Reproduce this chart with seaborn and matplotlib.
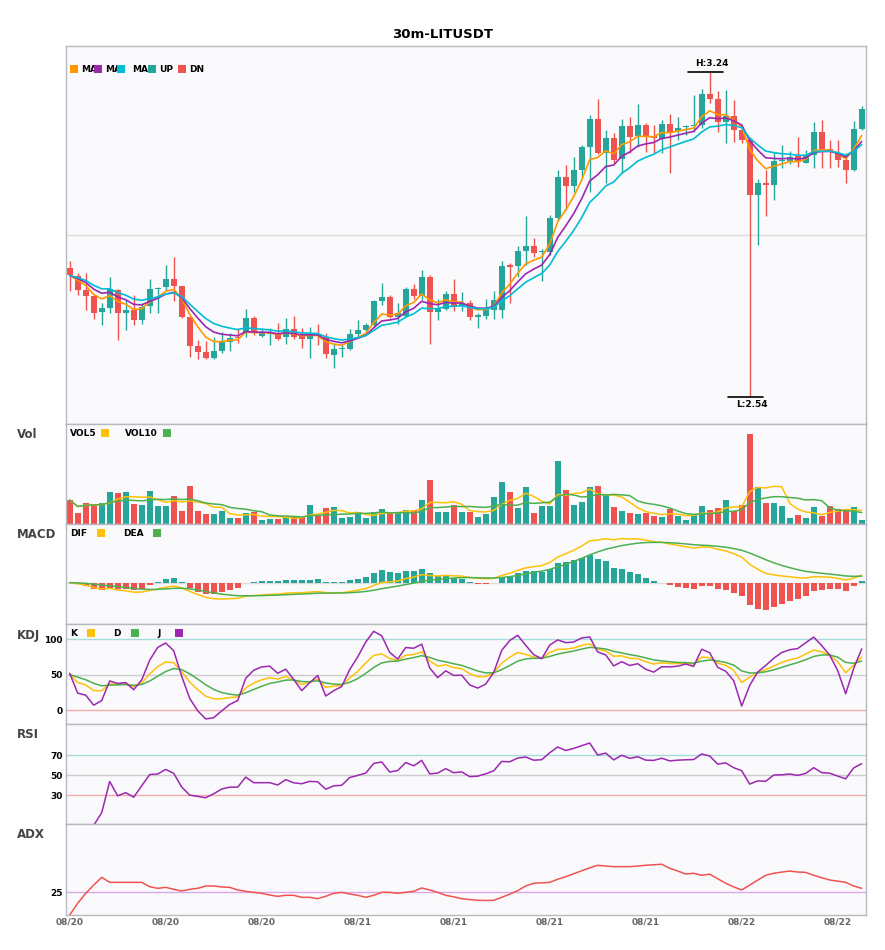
import numpy as np
import pandas as pd
import matplotlib
matplotlib.use("Agg")
import matplotlib.pyplot as plt
import seaborn as sns
from matplotlib.lines import Line2D

sns.set_theme(style="white")
plt.rcParams['font.family'] = ['DejaVu Sans']

# ---------------- data ----------------
symbol = "30m-LITUSDT"
date_labels = ["08/20", "08/20", "08/20", "08/21", "08/21", "08/21", "08/21", "08/22", "08/22"]
label_step = 12

opens = [2.818, 2.800, 2.770, 2.757, 2.723, 2.731, 2.770, 2.720, 2.727, 2.704,
         2.734, 2.771, 2.776, 2.793, 2.778, 2.712, 2.649, 2.636, 2.624, 2.639,
         2.658, 2.669, 2.677, 2.710, 2.671, 2.675, 2.675, 2.669, 2.686, 2.671,
         2.664, 2.673, 2.669, 2.630, 2.643, 2.643, 2.675, 2.684, 2.694, 2.745,
         2.755, 2.712, 2.714, 2.772, 2.757, 2.798, 2.723, 2.729, 2.761, 2.736,
         2.742, 2.712, 2.714, 2.727, 2.727, 2.823, 2.821, 2.854, 2.865, 2.851,
         2.852, 2.925, 3.012, 2.994, 3.028, 3.078, 3.138, 3.065, 3.098, 3.052,
         3.123, 3.101, 3.125, 3.102, 3.095, 3.127, 3.113, 3.120, 3.122, 3.125,
         3.192, 3.181, 3.132, 3.145, 3.114, 3.093, 2.974, 3.000, 2.996, 3.047,
         3.048, 3.058, 3.044, 3.061, 3.109, 3.074, 3.065, 3.049, 3.029, 3.116]
highs = [2.831, 2.807, 2.807, 2.759, 2.742, 2.798, 2.772, 2.747, 2.759, 2.742,
         2.793, 2.776, 2.824, 2.841, 2.778, 2.712, 2.662, 2.659, 2.669, 2.678,
         2.677, 2.688, 2.729, 2.714, 2.688, 2.688, 2.699, 2.709, 2.714, 2.688,
         2.690, 2.697, 2.677, 2.653, 2.653, 2.686, 2.704, 2.699, 2.747, 2.785,
         2.759, 2.742, 2.775, 2.783, 2.813, 2.802, 2.750, 2.768, 2.793, 2.766,
         2.747, 2.721, 2.750, 2.768, 2.831, 2.828, 2.864, 2.929, 2.882, 2.857,
         2.931, 3.028, 3.039, 3.056, 3.082, 3.147, 3.181, 3.114, 3.108, 3.137,
         3.142, 3.170, 3.129, 3.125, 3.136, 3.149, 3.143, 3.125, 3.190, 3.202,
         3.240, 3.199, 3.200, 3.180, 3.120, 3.100, 3.008, 3.028, 3.068, 3.082,
         3.070, 3.100, 3.071, 3.132, 3.135, 3.093, 3.093, 3.064, 3.134, 3.165]
lows = [2.768, 2.759, 2.727, 2.707, 2.694, 2.720, 2.662, 2.684, 2.694, 2.696,
        2.720, 2.720, 2.768, 2.745, 2.709, 2.625, 2.621, 2.621, 2.621, 2.634,
        2.639, 2.656, 2.668, 2.673, 2.668, 2.651, 2.662, 2.653, 2.664, 2.645,
        2.624, 2.651, 2.623, 2.602, 2.626, 2.640, 2.669, 2.680, 2.691, 2.737,
        2.709, 2.696, 2.712, 2.750, 2.748, 2.653, 2.705, 2.727, 2.725, 2.725,
        2.705, 2.688, 2.706, 2.707, 2.709, 2.742, 2.798, 2.824, 2.840, 2.789,
        2.845, 2.920, 2.942, 2.981, 3.010, 2.981, 3.063, 3.001, 3.043, 3.022,
        3.065, 3.078, 3.068, 3.065, 3.064, 3.021, 3.093, 3.104, 3.111, 3.118,
        3.172, 3.111, 3.087, 3.089, 3.087, 2.540, 2.867, 2.928, 2.964, 3.032,
        3.041, 3.034, 3.043, 3.032, 3.032, 3.032, 3.034, 3.001, 3.026, 3.114]
closes = [2.801, 2.770, 2.757, 2.721, 2.731, 2.772, 2.720, 2.727, 2.704, 2.733,
          2.772, 2.774, 2.793, 2.779, 2.712, 2.649, 2.637, 2.624, 2.639, 2.658,
          2.666, 2.666, 2.710, 2.677, 2.677, 2.677, 2.664, 2.686, 2.669, 2.664,
          2.673, 2.671, 2.631, 2.643, 2.645, 2.675, 2.684, 2.694, 2.745, 2.755,
          2.712, 2.720, 2.772, 2.757, 2.798, 2.723, 2.729, 2.761, 2.736, 2.742,
          2.712, 2.715, 2.729, 2.748, 2.821, 2.819, 2.854, 2.865, 2.850, 2.854,
          2.925, 3.012, 2.994, 3.028, 3.078, 3.138, 3.065, 3.098, 3.050, 3.123,
          3.100, 3.125, 3.100, 3.098, 3.127, 3.109, 3.118, 3.122, 3.125, 3.192,
          3.181, 3.132, 3.145, 3.114, 3.093, 2.974, 3.000, 2.996, 3.048, 3.050,
          3.057, 3.046, 3.061, 3.109, 3.074, 3.070, 3.049, 3.029, 3.116, 3.160]
volumes = [243, 113, 213, 203, 213, 323, 313, 323, 203, 193,
           333, 183, 183, 283, 133, 383, 133, 103, 103, 133,
           63, 63, 113, 123, 43, 53, 53, 73, 73, 73,
           193, 93, 163, 173, 63, 73, 123, 63, 123, 153,
           113, 123, 143, 143, 243, 443, 123, 123, 193, 123,
           123, 73, 103, 273, 423, 323, 163, 373, 113, 183,
           183, 633, 343, 193, 223, 373, 383, 303, 173, 133,
           113, 103, 113, 83, 73, 153, 83, 43, 93, 183,
           143, 163, 243, 133, 193, 903, 373, 213, 213, 183,
           63, 93, 63, 173, 83, 183, 153, 143, 173, 43]
adx_values = [0.0, 12.9, 23.9, 33.0, 41.5, 36.0, 36.0, 36.0, 36.0, 36.0,
              31.2, 29.4, 30.5, 28.3, 26.5, 28.3, 29.4, 32.0, 32.0, 30.9,
              30.5, 27.6, 26.1, 25.0, 23.9, 22.0, 20.6, 21.7, 21.7, 19.5,
              19.5, 18.0, 20.6, 23.9, 25.0, 23.2, 21.7, 19.5, 21.7, 25.0,
              25.0, 23.9, 25.0, 26.1, 29.8, 27.6, 25.0, 21.7, 20.0, 18.0,
              17.0, 16.2, 16.0, 16.2, 19.5, 23.0, 26.8, 32.0, 35.0, 35.5,
              36.0, 39.4, 42.2, 45.5, 48.8, 52.0, 54.8, 54.0, 53.3, 53.3,
              53.3, 54.0, 54.8, 55.4, 56.0, 51.5, 48.5, 45.2, 46.0, 43.8,
              45.0, 40.0, 35.0, 31.0, 27.6, 33.0, 38.5, 43.8, 46.0, 47.3,
              48.5, 47.4, 47.0, 43.8, 41.1, 38.6, 37.3, 36.0, 32.0, 29.4]

# ---------------- indicators ----------------
df = pd.DataFrame({"open": opens, "high": highs, "low": lows, "close": closes, "vol": volumes})
N = len(df)
idx = np.arange(N)
c, h, l = df["close"], df["high"], df["low"]

ma_fast = c.ewm(span=5, adjust=False).mean()
ma_mid = c.ewm(span=8, adjust=False).mean()
ma_slow = c.ewm(span=12, adjust=False).mean()
vol5 = df["vol"].rolling(5, min_periods=1).mean()
vol10 = df["vol"].rolling(10, min_periods=1).mean()

ema12 = c.ewm(span=12, adjust=False).mean()
ema26 = c.ewm(span=26, adjust=False).mean()
dif = ema12 - ema26
dea = dif.ewm(span=9, adjust=False).mean()
hist = 2 * (dif - dea)

llv = l.rolling(9, min_periods=1).min()
hhv = h.rolling(9, min_periods=1).max()
rsv = ((c - llv) / (hhv - llv) * 100).fillna(50).values
K = np.zeros(N); D = np.zeros(N)
kp, dp = 50.0, 50.0
for i in range(N):
    kp = 2 / 3 * kp + rsv[i] / 3
    dp = 2 / 3 * dp + kp / 3
    K[i], D[i] = kp, dp
J = 3 * K - 2 * D

delta = c.diff()
gain = delta.clip(lower=0)
loss = -delta.clip(upper=0)
ag = gain.ewm(alpha=1 / 14).mean()
al = loss.ewm(alpha=1 / 14).mean()
rsi = 100 * ag / (ag + al)

# ---------------- figure ----------------
W, H = 885, 950
fig = plt.figure(figsize=(W / 100, H / 100), dpi=100)
fig.patch.set_facecolor("white")
LEFT, RIGHT = 65.7, 865.7

def box(top, bottom):
    return [LEFT / W, 1 - bottom / H, (RIGHT - LEFT) / W, (bottom - top) / H]

ax_main = fig.add_axes(box(45.7, 424.3))
ax_vol = fig.add_axes(box(424.3, 524.3), sharex=ax_main)
ax_macd = fig.add_axes(box(524.3, 624.3), sharex=ax_main)
ax_kdj = fig.add_axes(box(624.3, 724.3), sharex=ax_main)
ax_rsi = fig.add_axes(box(724.3, 824.3), sharex=ax_main)
ax_adx = fig.add_axes(box(824.3, 915.0), sharex=ax_main)
axes = [ax_main, ax_vol, ax_macd, ax_kdj, ax_rsi, ax_adx]

UP, DN = "#26A69A", "#EF5350"
C_MA5, C_MA10, C_MA20 = "#FF9800", "#9C27B0", "#00BCD4"
YEL, GRN, PUR = "#FFC107", "#4CAF50", "#9C27B0"

for ax in axes:
    ax.set_facecolor("#FAFAFC")
    for s in ax.spines.values():
        s.set_color("#B8B8C0")
        s.set_linewidth(1.0)
    ax.tick_params(axis="both", length=0, pad=2, labelsize=6.5, labelcolor="black")
    ax.set_xlim(-0.5, N - 0.5)

# ---- main candles
is_up = (df["close"] >= df["open"]).values
colors = np.where(is_up, UP, DN)
body_lo = np.minimum(df["open"], df["close"]).values
body_h = np.maximum(np.abs(df["close"] - df["open"]).values, 0.0018)
ax_main.vlines(idx, df["low"], df["high"], colors=colors, linewidth=1.0, zorder=2)
ax_main.bar(idx, body_h, bottom=body_lo, width=0.72, color=colors, linewidth=0, zorder=2)
for ser, col in [(ma_fast, C_MA5), (ma_mid, C_MA10), (ma_slow, C_MA20)]:
    sns.lineplot(x=idx, y=ser.values, ax=ax_main, color=col, linewidth=1.2, zorder=3, legend=False)
lo_p, hi_p = df["low"].min(), df["high"].max()
rng = hi_p - lo_p
y0, y1 = lo_p - 0.0855 * rng, hi_p + 0.08 * rng
ax_main.set_ylim(y0, y1)
ax_main.axhline((y0 + y1) / 2, color="#DCDCDC", linewidth=1.0, zorder=1)
ax_main.set_yticks([])
hi_i, lo_i = int(df["high"].idxmax()), int(df["low"].idxmin())
ax_main.plot([hi_i - 2.7, hi_i + 1.7], [hi_p, hi_p], color="black", linewidth=1.2, zorder=4)
ax_main.annotate(f"H:{hi_p:.2f}", (hi_i + 0.25, hi_p), xytext=(0, 2.5), textcoords="offset points",
                 ha="center", va="bottom", fontsize=6.5, fontweight="bold", color="black")
ax_main.plot([lo_i - 2.7, lo_i + 1.7], [lo_p, lo_p], color="black", linewidth=1.2, zorder=4)
ax_main.annotate(f"L:{lo_p:.2f}", (lo_i + 0.25, lo_p), xytext=(0, -2.5), textcoords="offset points",
                 ha="center", va="top", fontsize=6.5, fontweight="bold", color="black")

# ---- volume
ax_vol.bar(idx, df["vol"], width=0.72, color=colors, linewidth=0, zorder=2)
sns.lineplot(x=idx, y=vol5.values, ax=ax_vol, color=YEL, linewidth=1.1, zorder=3, legend=False)
sns.lineplot(x=idx, y=vol10.values, ax=ax_vol, color=GRN, linewidth=1.1, zorder=3, legend=False)
ax_vol.set_ylim(0, df["vol"].max() * 1.107)
ax_vol.set_yticks([])

# ---- MACD
hcol = np.where(hist.values >= 0, UP, DN)
ax_macd.axhline(0, color="#DCDCDC", linewidth=1.0, zorder=1)
ax_macd.bar(idx, hist.values, width=0.72, color=hcol, linewidth=0, zorder=2)
sns.lineplot(x=idx, y=dif.values, ax=ax_macd, color=YEL, linewidth=1.1, zorder=3, legend=False)
sns.lineplot(x=idx, y=dea.values, ax=ax_macd, color=GRN, linewidth=1.1, zorder=3, legend=False)
allm = np.concatenate([dif.values, dea.values, hist.values])
mr = allm.max() - allm.min()
ax_macd.set_ylim(allm.min() - 0.2 * mr, allm.max() + 0.2 * mr)
ax_macd.set_yticks([])

# ---- KDJ
for yv, col in [(100, "#A8DCD9"), (50, "#CCCCCC"), (0, "#F5AAAA")]:
    ax_kdj.axhline(yv, color=col, linewidth=1.0, zorder=1)
sns.lineplot(x=idx, y=K, ax=ax_kdj, color=YEL, linewidth=1.1, zorder=3, legend=False)
sns.lineplot(x=idx, y=D, ax=ax_kdj, color=GRN, linewidth=1.1, zorder=3, legend=False)
sns.lineplot(x=idx, y=J, ax=ax_kdj, color=PUR, linewidth=1.1, zorder=3, legend=False)
ax_kdj.set_ylim(-20, 121)
ax_kdj.set_yticks([0, 50, 100])

# ---- RSI
for yv, col in [(70, "#A8DCD9"), (50, "#CCCCCC"), (30, "#F5AAAA")]:
    ax_rsi.axhline(yv, color=col, linewidth=1.0, zorder=1)
sns.lineplot(x=idx, y=rsi.values, ax=ax_rsi, color=PUR, linewidth=1.1, zorder=3, legend=False)
ax_rsi.set_ylim(1, 101)
ax_rsi.set_yticks([30, 50, 70])

# ---- ADX
ax_adx.axhline(25, color="#DDA8E8", linewidth=1.0, zorder=1)
sns.lineplot(x=idx, y=adx_values, ax=ax_adx, color=DN, linewidth=1.1, zorder=3, legend=False)
ax_adx.set_ylim(0, 100)
ax_adx.set_yticks([25])

for ax in axes:
    ax.set_xlabel("")
    ax.set_ylabel("")
    for lab in ax.get_yticklabels():
        lab.set_fontweight("bold")
    if ax is not ax_adx:
        ax.tick_params(axis="x", labelbottom=False)

ax_adx.set_xticks(np.arange(0, N, label_step))
ax_adx.set_xticklabels(date_labels, fontsize=6.5, fontweight="bold", color="#666666")
ax_adx.set_xlim(-0.5, N - 0.5)

# ---------------- texts ----------------
def fx(x):
    return x / W

def fy(y):
    return 1 - y / H

fig.text(0.5, fy(34), symbol, ha="center", va="center", fontsize=9.5, fontweight="bold", color="black")

for name, y in [("Vol", 435), ("MACD", 535), ("KDJ", 635), ("RSI", 735), ("ADX", 835)]:
    fig.text(fx(17), fy(y), name, ha="left", va="center", fontsize=8.5, fontweight="bold", color="#444444")

def square(x, y, col):
    fig.add_artist(Line2D([fx(x)], [fy(y)], marker="s", markersize=5.8, color=col,
                          markeredgewidth=0, linestyle="none", transform=fig.transFigure, zorder=10))

def label(x, y, txt):
    fig.text(fx(x), fy(y), txt, ha="left", va="center", fontsize=6.5, fontweight="bold",
             color="black", zorder=9)

main_leg = [("MA", C_MA5, 73.8, 81), ("MA", C_MA10, 97.5, 105), ("MA", C_MA20, 121.3, 132),
            ("UP", UP, 152.3, 159.3), ("DN", DN, 182.3, 189.3)]
for txt, col, sx, tx in main_leg:
    label(tx, 69, txt)
    square(sx, 69, col)

for txt, col, tx, sx, y in [("VOL5", YEL, 70, 105.3, 433.3), ("VOL10", GRN, 125, 167, 433.3),
                            ("DIF", YEL, 70, 101, 533.3), ("DEA", GRN, 123.3, 157, 533.3),
                            ("K", YEL, 70, 91, 633.3), ("D", GRN, 113, 135, 633.3),
                            ("J", PUR, 157, 179, 633.3)]:
    label(tx, y, txt)
    square(sx, y, col)

fig.savefig("out.png", dpi=100, facecolor="white")
